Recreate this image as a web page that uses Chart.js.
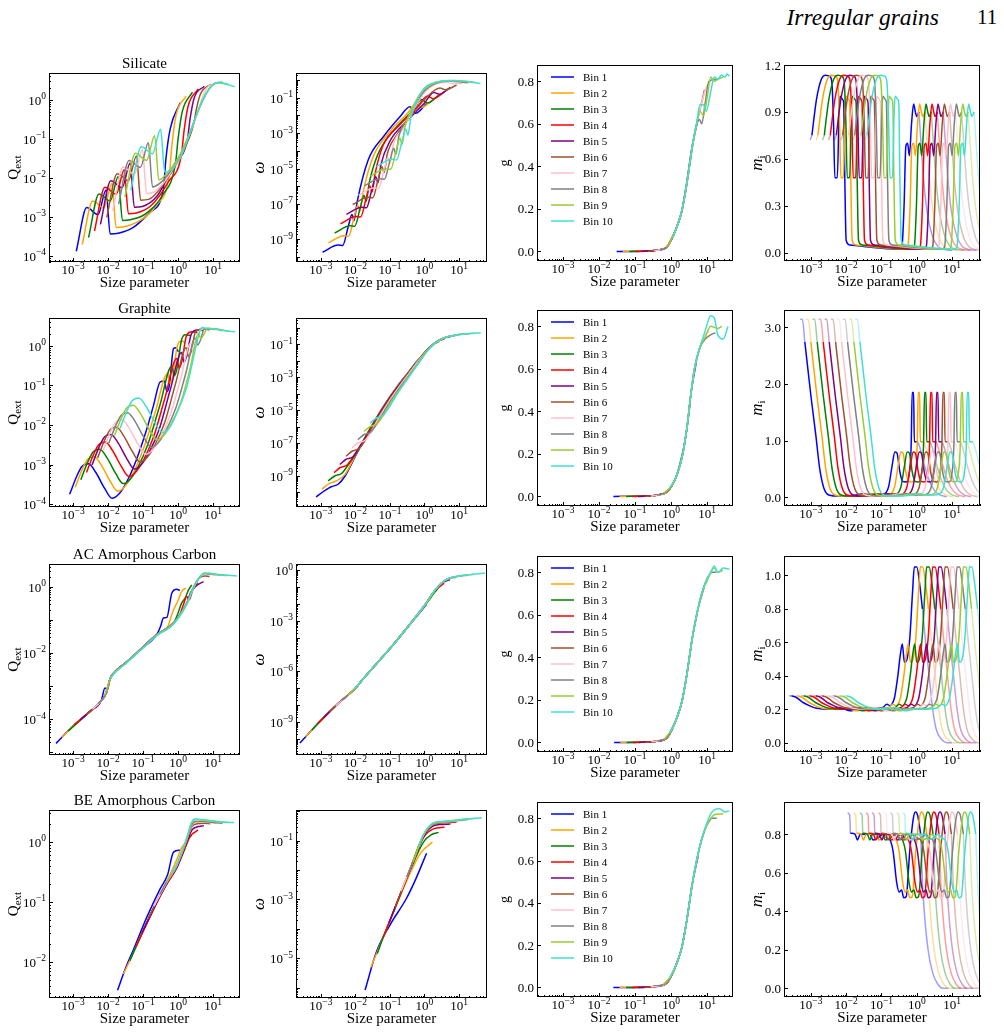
<!DOCTYPE html>
<html><head><meta charset="utf-8">
<script src="https://cdn.jsdelivr.net/npm/chart.js@4.4.0/dist/chart.umd.min.js"></script>
<style>
html,body{margin:0;padding:0;background:#fff;}
body{width:1004px;height:1036px;position:relative;overflow:hidden;font-family:"Liberation Serif","Times New Roman",serif;}
canvas{position:absolute;}
#hdr1{position:absolute;right:65px;top:5px;font-size:23.5px;line-height:24px;font-style:italic;white-space:nowrap;}
#hdr2{position:absolute;left:977px;top:7px;font-size:21px;line-height:21px;white-space:nowrap;}
</style></head><body>
<div id="hdr1">Irregular grains</div><div id="hdr2">11</div>
<script>
// ---------------- categories / labels ----------------
const bins = ['Bin 1','Bin 2','Bin 3','Bin 4','Bin 5','Bin 6','Bin 7','Bin 8','Bin 9','Bin 10'];
const materials = ['Silicate','Graphite','AC Amorphous Carbon','BE Amorphous Carbon'];
const xTickExps = [-3,-2,-1,0,1];
const qextTickExps = [[-4,-3,-2,-1,0],[-4,-3,-2,-1,0],[-4,-2,0],[-2,-1,0]];
const omegaTickExps = [[-9,-7,-5,-3,-1],[-9,-7,-5,-3,-1],[-9,-6,-3,0],[-5,-3,-1]];
const gTicks = [0,0.2,0.4,0.6,0.8];
const miTicks = [[0,0.3,0.6,0.9,1.2],[0,1,2,3],[0,0.2,0.4,0.6,0.8,1.0],[0,0.2,0.4,0.6,0.8]];
// per-bin shift (decades in size parameter) of the refractive-index curve
const miShift = [0,0.17,0.35,0.52,0.69,0.87,1.04,1.21,1.39,1.56];

// ---------------- data: [log10(size parameter), log10(value)] ----------------
const silicateQext = [
[[-2.91,-3.88],[-2.61,-2.76],[-2.29,-2.94],[-2.06,-2.31],[-1.94,-3.44],[-1.71,-3.42],[-1.28,-3.27],[-0.8,-2.88],[-0.42,-2.29],[-0.35,-1.53],[-0.23,-0.76],[0.06,-0.07]],
[[-2.74,-3.71],[-2.44,-2.59],[-2.12,-2.77],[-1.89,-2.14],[-1.77,-3.27],[-1.54,-3.25],[-1.11,-3.1],[-0.63,-2.71],[-0.25,-1.9],[-0.18,-1.2],[-0.06,-0.4],[0.23,0.1]],
[[-2.56,-3.53],[-2.26,-2.41],[-1.94,-2.59],[-1.71,-1.96],[-1.59,-3.09],[-1.36,-3.07],[-0.93,-2.92],[-0.45,-2.45],[-0.07,-1.6],[0.0,-1.0],[0.12,-0.3],[0.41,0.2]],
[[-2.39,-3.36],[-2.09,-2.24],[-1.77,-2.42],[-1.54,-1.79],[-1.42,-2.92],[-1.19,-2.9],[-0.76,-2.7],[-0.28,-2.1],[0.1,-1.38],[0.17,-0.8],[0.29,-0.15],[0.58,0.28]],
[[-2.22,-3.19],[-1.92,-2.07],[-1.6,-2.25],[-1.37,-1.62],[-1.25,-2.75],[-1.02,-2.73],[-0.59,-2.45],[-0.11,-1.65],[0.27,-1.0],[0.34,-0.5],[0.46,0.05],[0.75,0.35]],
[[-2.04,-3.01],[-1.74,-1.89],[-1.42,-2.07],[-1.19,-1.44],[-1.07,-2.57],[-0.84,-2.55],[-0.41,-2.15],[0.07,-1.45],[0.45,-0.6],[0.52,-0.25],[0.64,0.15],[0.93,0.4]],
[[-1.87,-2.84],[-1.57,-1.72],[-1.25,-1.9],[-1.02,-1.27],[-0.9,-2.4],[-0.67,-2.35],[-0.24,-1.9],[0.24,-1.05],[0.6,-0.22],[0.69,0.05],[0.81,0.3],[1.1,0.44]],
[[-1.7,-2.67],[-1.4,-1.55],[-1.08,-1.73],[-0.85,-1.1],[-0.73,-2.23],[-0.5,-2.12],[-0.2,-1.8],[0.2,-1.15],[0.6,-0.22],[0.9,0.3],[1.05,0.42],[1.27,0.45]],
[[-1.52,-2.49],[-1.22,-1.37],[-0.9,-1.55],[-0.67,-0.92],[-0.55,-2.05],[-0.32,-1.88],[0.0,-1.5],[0.4,-0.7],[0.7,0.0],[0.9,0.3],[1.1,0.44],[1.45,0.4]],
[[-1.35,-2.32],[-1.05,-1.2],[-0.73,-1.38],[-0.5,-0.75],[-0.38,-1.85],[-0.15,-1.75],[0.06,-1.5],[0.3,-0.95],[0.5,-0.45],[0.7,0.0],[0.9,0.3],[1.05,0.42],[1.2,0.45],[1.4,0.4],[1.62,0.34]]
];
const silicateOmega = [
[[-2.95,-9.73],[-2.5,-9.32],[-2.37,-9.35],[-2.21,-8.3],[-2.1,-7.6],[-2.04,-7.95],[-1.95,-6.9],[-1.63,-4.52],[-1.19,-3.2],[-0.71,-2.07],[-0.42,-1.51],[-0.26,-1.88],[0.06,-1.32]],
[[-2.78,-9.2],[-2.33,-8.79],[-2.2,-8.82],[-2.04,-7.77],[-1.93,-7.07],[-1.87,-7.42],[-1.78,-6.37],[-1.5,-4.4],[-1.0,-2.9],[-0.5,-1.9],[-0.25,-1.35],[-0.09,-1.55],[0.23,-1.13]],
[[-2.6,-8.64],[-2.15,-8.23],[-2.02,-8.26],[-1.86,-7.21],[-1.75,-6.51],[-1.69,-6.86],[-1.6,-5.81],[-1.35,-4.2],[-0.85,-2.75],[-0.35,-1.75],[-0.08,-1.1],[0.08,-1.3],[0.41,-0.85]],
[[-2.43,-8.12],[-1.98,-7.71],[-1.85,-7.74],[-1.69,-6.69],[-1.58,-5.99],[-1.52,-6.34],[-1.43,-5.29],[-1.2,-3.7],[-0.7,-2.5],[-0.2,-1.5],[0.09,-0.9],[0.25,-1.05],[0.58,-0.66]],
[[-2.26,-7.59],[-1.81,-7.18],[-1.68,-7.21],[-1.52,-6.16],[-1.41,-5.46],[-1.35,-5.81],[-1.26,-4.76],[-1.0,-3.45],[-0.5,-2.3],[0.0,-1.3],[0.27,-0.7],[0.43,-0.8],[0.75,-0.41]],
[[-2.08,-7.03],[-1.63,-6.62],[-1.5,-6.65],[-1.34,-5.6],[-1.23,-4.9],[-1.17,-5.25],[-1.08,-4.2],[-0.8,-3.1],[-0.4,-2.05],[0.05,-1.0],[0.45,-0.45],[0.6,-0.55],[0.93,-0.28]],
[[-1.91,-6.51],[-1.46,-6.1],[-1.33,-6.13],[-1.17,-5.08],[-1.06,-4.38],[-1.0,-4.73],[-0.91,-3.68],[-0.6,-2.7],[-0.3,-1.6],[0.0,-0.7],[0.3,-0.25],[0.62,-0.12],[0.8,-0.2],[1.1,-0.19]],
[[-1.74,-5.98],[-1.29,-5.57],[-1.16,-5.6],[-1.0,-4.55],[-0.89,-3.85],[-0.83,-4.2],[-0.74,-3.15],[-0.5,-2.2],[-0.25,-1.3],[0.0,-0.6],[0.3,-0.2],[0.7,-0.05],[1.0,-0.1],[1.27,-0.15]],
[[-1.56,-5.42],[-1.11,-5.01],[-0.98,-5.04],[-0.82,-3.99],[-0.71,-3.29],[-0.65,-3.64],[-0.56,-2.59],[-0.4,-1.8],[-0.2,-1.0],[0.0,-0.5],[0.3,-0.15],[0.7,-0.02],[1.1,-0.05],[1.45,-0.12]],
[[-1.39,-4.89],[-0.94,-4.48],[-0.81,-4.51],[-0.65,-3.46],[-0.54,-2.76],[-0.48,-3.11],[-0.39,-2.06],[-0.3,-1.5],[-0.15,-0.9],[0.0,-0.45],[0.2,-0.2],[0.5,-0.06],[0.9,-0.02],[1.2,-0.08],[1.62,-0.19]]
];
// [log10(x), g]
const silicateG = [
[[-1.51,0],[-1.0,0.0],[-0.4,0.005],[-0.12,0.02],[0.06,0.07]],
[[-1.34,0],[-0.7,0.002],[-0.4,0.006],[-0.12,0.02],[0.02,0.06],[0.16,0.115],[0.23,0.15]],
[[-1.16,0],[-0.7,0.002],[-0.4,0.006],[-0.12,0.02],[0.02,0.06],[0.16,0.115],[0.3,0.19],[0.41,0.29]],
[[-0.99,0],[-0.4,0.006],[-0.12,0.02],[0.02,0.06],[0.16,0.115],[0.3,0.19],[0.44,0.32],[0.58,0.48]],
[[-0.82,0],[-0.4,0.006],[-0.12,0.02],[0.02,0.06],[0.16,0.115],[0.3,0.19],[0.44,0.33],[0.58,0.49],[0.75,0.62]],
[[-0.64,0.001],[-0.4,0.006],[-0.12,0.02],[0.02,0.06],[0.16,0.115],[0.3,0.19],[0.44,0.32],[0.58,0.48],[0.71,0.6],[0.85,0.7],[0.93,0.76]],
[[-0.47,0.003],[-0.12,0.02],[0.02,0.06],[0.16,0.115],[0.3,0.19],[0.44,0.32],[0.58,0.48],[0.71,0.6],[0.85,0.7],[1.0,0.78],[1.1,0.8]],
[[-0.3,0.008],[-0.12,0.02],[0.02,0.06],[0.16,0.115],[0.3,0.19],[0.44,0.32],[0.58,0.48],[0.71,0.6],[0.8,0.62],[0.85,0.6],[0.95,0.7],[1.05,0.8],[1.27,0.81]],
[[-0.12,0.02],[0.02,0.06],[0.16,0.115],[0.3,0.19],[0.44,0.32],[0.58,0.48],[0.71,0.6],[0.8,0.66],[0.9,0.64],[1.0,0.72],[1.1,0.82],[1.2,0.8],[1.3,0.81],[1.45,0.82]],
[[0.05,0.065],[0.16,0.115],[0.3,0.19],[0.44,0.32],[0.58,0.48],[0.71,0.6],[0.8,0.69],[0.9,0.69],[0.98,0.66],[1.1,0.75],[1.2,0.82],[1.3,0.81],[1.4,0.83],[1.5,0.82],[1.55,0.835],[1.62,0.825]]
];
// refractive index (imaginary part) read for Bin 1: [log10(x), m_i]; faded in / solid / faded out
const silicateMiIn = [[-3.02,0.72],[-2.97,0.75]];
const silicateMi = [[-2.97,0.75],[-2.84,0.98],[-2.7,1.11],[-2.58,1.135],[-2.48,1.13],[-2.41,1.1],[-2.36,0.85],[-2.32,0.48],[-2.25,0.48],[-2.2,0.9],[-2.17,1.0],[-2.1,0.98],[-2.07,0.96],[-2.04,0.5],[-2.0,0.08],[-1.9,0.05],[-1.5,0.04],[-1.0,0.028],[-0.5,0.022],[-0.42,0.04],[-0.36,0.3],[-0.31,0.68],[-0.26,0.7],[-0.21,0.62],[-0.15,0.82],[-0.09,0.95],[-0.04,0.9],[0.0,0.87],[0.06,0.9]];
const silicateMiOut = [[0.06,0.9],[0.12,0.7],[0.2,0.45],[0.3,0.25],[0.45,0.1],[0.6,0.04],[0.8,0.02],[1.0,0.015]];

const graphiteQext = [
[[-3.1,-3.75],[-2.9,-3.3],[-2.75,-3.05],[-2.56,-2.98],[-2.35,-3.2],[-2.1,-3.6],[-1.89,-3.85],[-1.7,-3.75],[-1.47,-3.44],[-1.18,-2.85],[-0.89,-2.09],[-0.7,-1.5],[-0.51,-0.91],[-0.39,-0.89],[-0.32,-1.16],[-0.25,-1.0],[-0.13,-0.07],[-0.07,-0.05],[0.01,-0.15]],
[[-2.94,-3.57],[-2.74,-3.12],[-2.59,-2.87],[-2.4,-2.8],[-2.19,-3.02],[-1.94,-3.42],[-1.73,-3.67],[-1.54,-3.57],[-1.31,-3.26],[-1.02,-2.67],[-0.66,-1.7],[-0.3,-0.7],[-0.23,-0.95],[-0.16,-0.8],[-0.02,0.0],[0.1,0.12],[0.19,0.08]],
[[-2.78,-3.38],[-2.58,-2.93],[-2.43,-2.68],[-2.24,-2.61],[-2.03,-2.83],[-1.78,-3.23],[-1.57,-3.48],[-1.38,-3.38],[-1.15,-3.07],[-0.86,-2.48],[-0.52,-1.5],[-0.18,-0.51],[-0.11,-0.76],[-0.04,-0.61],[0.1,0.15],[0.2,0.28],[0.37,0.25]],
[[-2.62,-3.2],[-2.42,-2.75],[-2.27,-2.5],[-2.08,-2.43],[-1.87,-2.65],[-1.62,-3.05],[-1.41,-3.3],[-1.22,-3.2],[-0.99,-2.89],[-0.7,-2.3],[-0.37,-1.3],[-0.04,-0.32],[0.03,-0.57],[0.1,-0.42],[0.24,0.25],[0.39,0.35],[0.55,0.33]],
[[-2.46,-3.01],[-2.26,-2.56],[-2.11,-2.31],[-1.92,-2.24],[-1.71,-2.46],[-1.46,-2.86],[-1.25,-3.11],[-1.06,-3.01],[-0.83,-2.7],[-0.54,-2.11],[-0.22,-1.1],[0.1,-0.17],[0.17,-0.42],[0.24,-0.27],[0.38,0.3],[0.55,0.4],[0.73,0.38]],
[[-2.3,-2.83],[-2.1,-2.38],[-1.95,-2.13],[-1.76,-2.06],[-1.55,-2.28],[-1.3,-2.68],[-1.09,-2.93],[-0.9,-2.83],[-0.67,-2.52],[-0.38,-1.93],[-0.07,-0.95],[0.23,-0.05],[0.3,-0.28],[0.37,-0.15],[0.5,0.35],[0.7,0.42],[0.9,0.4]],
[[-2.14,-2.64],[-1.94,-2.19],[-1.79,-1.94],[-1.6,-1.87],[-1.39,-2.09],[-1.14,-2.49],[-0.93,-2.74],[-0.74,-2.64],[-0.51,-2.33],[-0.22,-1.74],[0.07,-0.85],[0.36,0.06],[0.43,-0.15],[0.5,-0.02],[0.62,0.38],[0.85,0.44],[1.08,0.4]],
[[-1.98,-2.46],[-1.78,-2.01],[-1.63,-1.76],[-1.44,-1.69],[-1.23,-1.91],[-0.98,-2.31],[-0.77,-2.56],[-0.58,-2.46],[-0.35,-2.15],[-0.06,-1.56],[0.22,-0.7],[0.49,0.19],[0.56,0.02],[0.63,0.12],[0.75,0.42],[1.0,0.43],[1.26,0.38]],
[[-1.82,-2.27],[-1.62,-1.82],[-1.47,-1.57],[-1.28,-1.5],[-1.07,-1.72],[-0.82,-2.12],[-0.61,-2.37],[-0.42,-2.27],[-0.19,-1.96],[0.1,-1.37],[0.35,-0.55],[0.58,0.31],[0.65,0.18],[0.72,0.26],[0.85,0.44],[1.1,0.42],[1.45,0.37]],
[[-1.66,-2.09],[-1.46,-1.64],[-1.31,-1.39],[-1.12,-1.32],[-0.91,-1.54],[-0.66,-1.94],[-0.45,-2.19],[-0.26,-2.09],[0.06,-1.5],[0.26,-1.0],[0.44,-0.3],[0.6,0.3],[0.68,0.46],[0.8,0.44],[1.0,0.42],[1.2,0.4],[1.4,0.37],[1.63,0.35]]
];
const graphiteOmega = [
[[-3.14,-10.27],[-2.9,-9.9],[-2.7,-9.65],[-2.5,-9.5],[-2.3,-9.0],[-2.0,-7.8],[-1.7,-6.6],[-1.4,-5.5],[-1.1,-4.5],[-0.8,-3.6],[-0.5,-2.8],[-0.2,-2.0],[0.06,-1.45]],
[[-2.97,-9.8],[-2.75,-9.45],[-2.55,-9.3],[-2.3,-8.9],[-2.0,-7.75],[-1.7,-6.6],[-1.4,-5.5],[-1.1,-4.52],[-0.8,-3.62],[-0.5,-2.82],[-0.2,-2.02],[0.0,-1.5],[0.23,-1.12]],
[[-2.79,-9.3],[-2.6,-9.0],[-2.4,-8.85],[-2.2,-8.3],[-2.0,-7.7],[-1.7,-6.6],[-1.4,-5.52],[-1.1,-4.55],[-0.8,-3.65],[-0.5,-2.85],[-0.2,-2.05],[0.0,-1.52],[0.2,-1.1],[0.41,-0.85]],
[[-2.62,-8.8],[-2.45,-8.5],[-2.25,-8.35],[-2.05,-7.8],[-1.7,-6.65],[-1.4,-5.55],[-1.1,-4.58],[-0.8,-3.68],[-0.5,-2.88],[-0.2,-2.08],[0.0,-1.55],[0.2,-1.12],[0.4,-0.82],[0.58,-0.68]],
[[-2.45,-8.3],[-2.28,-8.0],[-2.08,-7.85],[-1.9,-7.3],[-1.7,-6.7],[-1.4,-5.6],[-1.1,-4.6],[-0.8,-3.7],[-0.5,-2.9],[-0.2,-2.1],[0.0,-1.55],[0.2,-1.1],[0.4,-0.8],[0.6,-0.62],[0.75,-0.56]],
[[-2.27,-7.8],[-2.1,-7.5],[-1.9,-7.35],[-1.72,-6.85],[-1.4,-5.65],[-1.1,-4.65],[-0.8,-3.75],[-0.5,-2.92],[-0.2,-2.1],[0.0,-1.55],[0.2,-1.1],[0.4,-0.8],[0.6,-0.6],[0.8,-0.5],[0.93,-0.47]],
[[-2.1,-7.3],[-1.93,-7.0],[-1.73,-6.85],[-1.55,-6.35],[-1.3,-5.4],[-1.0,-4.4],[-0.7,-3.5],[-0.4,-2.65],[-0.15,-1.95],[0.05,-1.45],[0.2,-1.1],[0.4,-0.8],[0.6,-0.6],[0.8,-0.5],[1.1,-0.4]],
[[-1.93,-6.8],[-1.76,-6.5],[-1.56,-6.35],[-1.38,-5.85],[-1.1,-4.85],[-0.8,-3.9],[-0.5,-3.05],[-0.2,-2.2],[0.0,-1.6],[0.2,-1.12],[0.4,-0.8],[0.6,-0.6],[0.8,-0.5],[1.0,-0.42],[1.27,-0.37]],
[[-1.75,-6.3],[-1.58,-6.0],[-1.38,-5.85],[-1.2,-5.35],[-0.9,-4.3],[-0.6,-3.4],[-0.3,-2.5],[0.0,-1.65],[0.2,-1.15],[0.4,-0.8],[0.6,-0.6],[0.8,-0.5],[1.0,-0.42],[1.2,-0.38],[1.45,-0.34]],
[[-1.58,-5.8],[-1.41,-5.5],[-1.21,-5.35],[-1.03,-4.85],[-0.75,-3.9],[-0.45,-3.0],[-0.15,-2.1],[0.05,-1.5],[0.25,-1.05],[0.45,-0.75],[0.65,-0.57],[0.85,-0.48],[1.05,-0.41],[1.3,-0.36],[1.63,-0.32]]
];
const graphiteG = [
[[-1.6,0],[-0.7,0.002],[-0.4,0.006],[-0.12,0.02],[0.02,0.05]],
[[-1.43,0],[-0.7,0.002],[-0.4,0.006],[-0.12,0.02],[0.02,0.05],[0.19,0.11]],
[[-1.25,0],[-0.7,0.002],[-0.4,0.006],[-0.12,0.02],[0.02,0.05],[0.16,0.1],[0.37,0.24]],
[[-1.08,0],[-0.4,0.006],[-0.12,0.02],[0.02,0.05],[0.16,0.1],[0.3,0.18],[0.44,0.32],[0.54,0.45]],
[[-0.91,0],[-0.4,0.006],[-0.12,0.02],[0.02,0.05],[0.16,0.1],[0.3,0.18],[0.44,0.32],[0.55,0.48],[0.71,0.64]],
[[-0.73,0],[-0.4,0.006],[-0.12,0.02],[0.02,0.05],[0.16,0.1],[0.3,0.18],[0.44,0.32],[0.55,0.48],[0.65,0.6],[0.8,0.7],[0.89,0.74]],
[[-0.56,0.001],[-0.12,0.02],[0.02,0.05],[0.16,0.1],[0.3,0.18],[0.44,0.32],[0.55,0.48],[0.65,0.6],[0.8,0.7],[0.95,0.76],[1.06,0.78]],
[[-0.39,0.006],[-0.12,0.02],[0.02,0.05],[0.16,0.1],[0.3,0.18],[0.44,0.32],[0.55,0.48],[0.65,0.6],[0.8,0.7],[0.95,0.74],[1.1,0.76],[1.23,0.77]],
[[-0.21,0.015],[0.02,0.05],[0.16,0.1],[0.3,0.18],[0.44,0.32],[0.55,0.48],[0.65,0.6],[0.8,0.7],[0.95,0.75],[1.1,0.8],[1.3,0.79],[1.41,0.8]],
[[-0.04,0.04],[0.16,0.1],[0.3,0.18],[0.44,0.32],[0.55,0.48],[0.65,0.6],[0.8,0.7],[0.95,0.78],[1.1,0.85],[1.2,0.84],[1.3,0.76],[1.45,0.74],[1.58,0.8]]
];
const graphiteMiIn = [[-3.3,3.14],[-3.24,3.14],[-3.17,2.74]];
const graphiteMi = [[-3.17,2.74],[-3.0,1.8],[-2.86,1.1],[-2.75,0.51],[-2.63,0.16],[-2.49,0.04],[-2.2,0.02],[-1.8,0.03],[-1.5,0.06],[-1.25,0.04],[-0.95,0.05],[-0.8,0.18],[-0.7,0.55],[-0.62,0.8],[-0.56,0.78],[-0.48,0.45],[-0.4,0.28],[-0.3,0.27],[-0.22,0.4],[-0.16,0.9],[-0.13,1.85],[-0.09,1.85],[-0.07,0.98],[0.03,0.98]];
const graphiteMiOut = [[0.03,0.98],[0.1,0.85],[0.2,0.6],[0.35,0.3],[0.5,0.12],[0.65,0.04],[0.85,0.01]];

const acQext = [
[[-3.49,-4.73],[-3.0,-4.2],[-2.5,-3.75],[-2.2,-3.45],[-2.09,-3.06],[-2.02,-3.1],[-1.95,-2.8],[-1.85,-2.62],[-1.5,-2.3],[-1.09,-1.91],[-0.61,-1.45],[-0.5,-1.2],[-0.42,-0.95],[-0.32,-0.93],[-0.18,-0.2],[-0.04,-0.08],[0.05,-0.12]],
[[-3.32,-4.55],[-3.0,-4.2],[-2.5,-3.75],[-2.2,-3.45],[-2.05,-3.2],[-1.95,-2.8],[-1.85,-2.62],[-1.5,-2.3],[-1.09,-1.91],[-0.61,-1.45],[-0.3,-1.22],[-0.15,-0.75],[0.0,-0.42],[0.1,-0.15],[0.22,-0.05]],
[[-3.14,-4.36],[-2.5,-3.75],[-2.2,-3.45],[-2.05,-3.2],[-1.95,-2.8],[-1.85,-2.62],[-1.5,-2.3],[-1.09,-1.91],[-0.61,-1.45],[-0.13,-1.1],[0.0,-0.8],[0.1,-0.5],[0.2,-0.35],[0.3,-0.1],[0.39,0.05]],
[[-2.97,-4.17],[-2.5,-3.75],[-2.2,-3.45],[-2.05,-3.2],[-1.95,-2.8],[-1.85,-2.62],[-1.5,-2.3],[-1.09,-1.91],[-0.61,-1.45],[-0.13,-1.1],[0.05,-0.85],[0.15,-0.55],[0.25,-0.3],[0.32,-0.4],[0.42,-0.1],[0.56,0.12]],
[[-2.8,-4.02],[-2.5,-3.75],[-2.2,-3.45],[-2.05,-3.2],[-1.95,-2.8],[-1.85,-2.62],[-1.5,-2.3],[-1.09,-1.91],[-0.61,-1.45],[-0.13,-1.1],[0.25,-0.5],[0.35,-0.2],[0.45,-0.05],[0.55,0.05],[0.73,0.15]],
[[-2.62,-3.86],[-2.2,-3.45],[-2.05,-3.2],[-1.95,-2.8],[-1.85,-2.62],[-1.5,-2.3],[-1.09,-1.91],[-0.61,-1.45],[-0.13,-1.1],[0.25,-0.5],[0.45,0.0],[0.6,0.25],[0.75,0.32],[0.9,0.3]],
[[-2.45,-3.7],[-2.2,-3.45],[-2.05,-3.2],[-1.95,-2.8],[-1.85,-2.62],[-1.5,-2.3],[-1.09,-1.91],[-0.61,-1.45],[-0.13,-1.1],[0.25,-0.5],[0.45,0.0],[0.63,0.3],[0.75,0.38],[0.9,0.37],[1.07,0.34]],
[[-2.28,-3.53],[-2.05,-3.2],[-1.95,-2.8],[-1.85,-2.62],[-1.5,-2.3],[-1.09,-1.91],[-0.61,-1.45],[-0.13,-1.1],[0.25,-0.5],[0.45,0.0],[0.63,0.3],[0.75,0.39],[0.9,0.38],[1.24,0.34]],
[[-2.1,-3.28],[-1.95,-2.82],[-1.85,-2.64],[-1.5,-2.32],[-1.09,-1.93],[-0.61,-1.47],[-0.13,-1.12],[0.25,-0.52],[0.45,-0.02],[0.63,0.3],[0.75,0.4],[0.9,0.39],[1.2,0.35],[1.42,0.33]],
[[-1.93,-2.78],[-1.85,-2.65],[-1.5,-2.33],[-1.09,-1.94],[-0.61,-1.48],[-0.13,-1.13],[0.25,-0.53],[0.45,-0.03],[0.63,0.3],[0.75,0.41],[0.9,0.4],[1.2,0.36],[1.68,0.32]]
];
const acOmega = [
[[-3.61,-10.24],[-3.0,-8.9],[-2.5,-7.9],[-2.0,-7.0],[-1.8,-6.5],[-1.5,-5.8],[-1.0,-4.65],[-0.5,-3.42],[0.05,-2.05]],
[[-3.44,-9.87],[-3.0,-8.9],[-2.5,-7.9],[-2.0,-7.0],[-1.8,-6.5],[-1.5,-5.8],[-1.0,-4.65],[-0.5,-3.42],[0.0,-2.15],[0.22,-1.55]],
[[-3.26,-9.47],[-3.0,-8.9],[-2.5,-7.9],[-2.0,-7.0],[-1.8,-6.5],[-1.5,-5.8],[-1.0,-4.65],[-0.5,-3.4],[0.0,-2.12],[0.3,-1.3],[0.4,-1.08]],
[[-3.09,-9.1],[-2.5,-7.9],[-2.0,-7.0],[-1.8,-6.5],[-1.5,-5.8],[-1.0,-4.65],[-0.5,-3.4],[0.0,-2.1],[0.3,-1.22],[0.57,-0.78]],
[[-2.92,-8.74],[-2.5,-7.9],[-2.0,-7.0],[-1.8,-6.5],[-1.5,-5.8],[-1.0,-4.65],[-0.5,-3.4],[0.0,-2.1],[0.3,-1.2],[0.5,-0.78],[0.74,-0.56]],
[[-2.74,-8.38],[-2.5,-7.9],[-2.0,-7.0],[-1.8,-6.5],[-1.5,-5.8],[-1.0,-4.65],[-0.5,-3.4],[0.0,-2.1],[0.3,-1.2],[0.5,-0.76],[0.7,-0.52],[0.92,-0.42]],
[[-2.57,-8.04],[-2.0,-7.0],[-1.8,-6.5],[-1.5,-5.8],[-1.0,-4.65],[-0.5,-3.4],[0.0,-2.1],[0.3,-1.2],[0.5,-0.75],[0.7,-0.5],[1.09,-0.34]],
[[-2.4,-7.72],[-2.0,-7.0],[-1.8,-6.5],[-1.5,-5.8],[-1.0,-4.65],[-0.5,-3.4],[0.0,-2.1],[0.3,-1.2],[0.5,-0.75],[0.7,-0.5],[1.0,-0.35],[1.26,-0.3]],
[[-2.22,-7.4],[-2.0,-7.0],[-1.8,-6.5],[-1.5,-5.8],[-1.0,-4.65],[-0.5,-3.4],[0.0,-2.1],[0.3,-1.2],[0.5,-0.75],[0.7,-0.5],[1.0,-0.35],[1.44,-0.25]],
[[-2.05,-7.09],[-1.8,-6.5],[-1.5,-5.8],[-1.0,-4.65],[-0.5,-3.4],[0.0,-2.1],[0.3,-1.2],[0.5,-0.75],[0.7,-0.5],[1.0,-0.35],[1.4,-0.25],[1.75,-0.18]]
];
const acG = [
[[-1.58,0],[-1.0,0.0],[-0.4,0.005],[-0.12,0.02],[0.05,0.065]],
[[-1.41,0],[-0.7,0.002],[-0.4,0.006],[-0.12,0.02],[0.02,0.06],[0.16,0.115],[0.22,0.15]],
[[-1.23,0],[-0.7,0.002],[-0.4,0.006],[-0.12,0.02],[0.02,0.06],[0.16,0.115],[0.3,0.19],[0.4,0.28]],
[[-1.06,0],[-0.4,0.006],[-0.12,0.02],[0.02,0.06],[0.16,0.115],[0.3,0.19],[0.44,0.32],[0.57,0.47]],
[[-0.89,0],[-0.4,0.006],[-0.12,0.02],[0.02,0.06],[0.16,0.115],[0.3,0.19],[0.44,0.32],[0.58,0.48],[0.74,0.62]],
[[-0.71,0.001],[-0.4,0.006],[-0.12,0.02],[0.02,0.06],[0.16,0.115],[0.3,0.19],[0.44,0.32],[0.58,0.48],[0.71,0.6],[0.85,0.69],[0.92,0.73]],
[[-0.54,0.003],[-0.12,0.02],[0.02,0.06],[0.16,0.115],[0.3,0.19],[0.44,0.32],[0.58,0.48],[0.71,0.6],[0.85,0.7],[1.0,0.77],[1.09,0.79]],
[[-0.37,0.007],[-0.12,0.02],[0.02,0.06],[0.16,0.115],[0.3,0.19],[0.44,0.32],[0.58,0.48],[0.71,0.6],[0.85,0.7],[1.0,0.77],[1.15,0.8],[1.26,0.8]],
[[-0.19,0.015],[0.02,0.06],[0.16,0.115],[0.3,0.19],[0.44,0.32],[0.58,0.48],[0.71,0.6],[0.85,0.7],[1.0,0.76],[1.1,0.8],[1.2,0.82],[1.3,0.8],[1.44,0.81]],
[[-0.02,0.045],[0.16,0.115],[0.3,0.19],[0.44,0.32],[0.58,0.48],[0.71,0.6],[0.85,0.7],[1.0,0.77],[1.1,0.8],[1.2,0.83],[1.3,0.8],[1.45,0.82],[1.62,0.815]]
];
const acMiIn = [[-3.62,0.28],[-3.55,0.28]];
const acMi = [[-3.55,0.28],[-3.41,0.27],[-3.22,0.24],[-3.03,0.22],[-2.84,0.205],[-2.46,0.2],[-2.2,0.21],[-1.9,0.19],[-1.6,0.2],[-1.3,0.2],[-0.96,0.21],[-0.85,0.23],[-0.75,0.22],[-0.68,0.24],[-0.63,0.27],[-0.53,0.41],[-0.47,0.52],[-0.41,0.59],[-0.35,0.48],[-0.29,0.49],[-0.2,0.62],[-0.12,0.9],[-0.07,1.05],[0.0,1.05],[0.08,0.95],[0.16,0.8]];
const acMiOut = [[0.16,0.8],[0.25,0.6],[0.35,0.4],[0.45,0.2],[0.55,0.08],[0.7,0.02],[0.85,0.0],[1.0,0.0]];

const beQext = [
[[-1.73,-2.47],[-1.5,-2.1],[-1.28,-1.8],[-0.89,-1.25],[-0.51,-0.78],[-0.3,-0.55],[-0.13,-0.17],[0.06,-0.14]],
[[-1.56,-2.2],[-1.28,-1.85],[-0.89,-1.33],[-0.51,-0.87],[-0.32,-0.66],[-0.04,-0.3],[0.1,-0.1],[0.23,0.0]],
[[-1.38,-1.98],[-0.89,-1.34],[-0.51,-0.88],[-0.32,-0.68],[-0.04,-0.42],[0.2,-0.1],[0.3,0.05],[0.4,0.12]],
[[-1.21,-1.75],[-0.89,-1.36],[-0.51,-0.9],[-0.32,-0.7],[-0.04,-0.44],[0.2,-0.1],[0.35,0.1],[0.45,0.15],[0.57,0.2]],
[[-1.04,-1.52],[-0.51,-0.9],[-0.32,-0.7],[-0.04,-0.42],[0.25,0.0],[0.4,0.2],[0.55,0.25],[0.74,0.27]],
[[-0.86,-1.28],[-0.51,-0.88],[-0.32,-0.68],[-0.04,-0.4],[0.25,0.03],[0.39,0.25],[0.55,0.3],[0.75,0.31],[0.92,0.3]],
[[-0.69,-1.07],[-0.32,-0.67],[-0.04,-0.4],[0.25,0.04],[0.39,0.27],[0.5,0.33],[0.7,0.33],[1.09,0.31]],
[[-0.52,-0.87],[-0.32,-0.66],[-0.04,-0.39],[0.25,0.05],[0.39,0.28],[0.5,0.34],[0.7,0.34],[1.0,0.32],[1.27,0.31]],
[[-0.34,-0.67],[-0.04,-0.38],[0.25,0.06],[0.39,0.32],[0.5,0.37],[0.7,0.36],[1.0,0.34],[1.44,0.32]],
[[-0.17,-0.52],[-0.04,-0.38],[0.25,0.07],[0.39,0.33],[0.5,0.38],[0.7,0.37],[1.0,0.35],[1.3,0.33],[1.6,0.32]]
];
const beOmega = [
[[-1.72,-6.08],[-1.39,-4.78],[-1.0,-3.87],[-0.52,-2.96],[-0.25,-2.3],[0.06,-1.43]],
[[-1.55,-5.3],[-1.2,-4.3],[-0.9,-3.45],[-0.41,-2.1],[-0.1,-1.4],[0.23,-1.05]],
[[-1.37,-4.85],[-1.2,-4.3],[-0.9,-3.43],[-0.41,-2.0],[-0.03,-1.05],[0.2,-0.8],[0.41,-0.72]],
[[-1.2,-4.3],[-0.9,-3.42],[-0.41,-1.97],[-0.03,-0.9],[0.26,-0.6],[0.58,-0.55]],
[[-1.03,-3.8],[-0.41,-1.95],[-0.03,-0.85],[0.26,-0.5],[0.5,-0.45],[0.75,-0.44]],
[[-0.85,-3.27],[-0.41,-1.94],[-0.03,-0.82],[0.26,-0.45],[0.5,-0.4],[0.93,-0.38]],
[[-0.68,-2.72],[-0.41,-1.94],[-0.03,-0.81],[0.26,-0.42],[0.5,-0.37],[0.8,-0.34],[1.1,-0.32]],
[[-0.51,-2.24],[-0.41,-1.94],[-0.03,-0.81],[0.26,-0.41],[0.5,-0.36],[0.8,-0.33],[1.27,-0.28]],
[[-0.33,-1.72],[-0.03,-0.81],[0.26,-0.41],[0.5,-0.36],[0.8,-0.32],[1.1,-0.28],[1.45,-0.25]],
[[-0.16,-1.2],[-0.03,-0.8],[0.26,-0.4],[0.5,-0.35],[0.74,-0.33],[1.2,-0.27],[1.66,-0.22]]
];
const beG = [
[[-1.6,0],[-1.0,0.0],[-0.4,0.005],[-0.12,0.02],[0.06,0.07]],
[[-1.43,0],[-0.7,0.002],[-0.4,0.006],[-0.12,0.02],[0.02,0.06],[0.16,0.115],[0.23,0.15]],
[[-1.25,0],[-0.7,0.002],[-0.4,0.006],[-0.12,0.02],[0.02,0.06],[0.16,0.115],[0.3,0.19],[0.41,0.29]],
[[-1.08,0],[-0.4,0.006],[-0.12,0.02],[0.02,0.06],[0.16,0.115],[0.3,0.19],[0.44,0.32],[0.58,0.48]],
[[-0.91,0],[-0.4,0.006],[-0.12,0.02],[0.02,0.06],[0.16,0.115],[0.3,0.19],[0.44,0.32],[0.58,0.48],[0.75,0.62]],
[[-0.73,0.001],[-0.4,0.006],[-0.12,0.02],[0.02,0.06],[0.16,0.115],[0.3,0.19],[0.44,0.32],[0.58,0.48],[0.71,0.6],[0.85,0.7],[0.93,0.74]],
[[-0.56,0.003],[-0.12,0.02],[0.02,0.06],[0.16,0.115],[0.3,0.19],[0.44,0.32],[0.58,0.48],[0.71,0.6],[0.85,0.7],[1.0,0.77],[1.1,0.79]],
[[-0.39,0.007],[-0.12,0.02],[0.02,0.06],[0.16,0.115],[0.3,0.19],[0.44,0.32],[0.58,0.48],[0.71,0.6],[0.85,0.7],[1.0,0.77],[1.15,0.8],[1.27,0.8]],
[[-0.21,0.015],[0.02,0.06],[0.16,0.115],[0.3,0.19],[0.44,0.32],[0.58,0.48],[0.71,0.6],[0.85,0.7],[1.0,0.77],[1.15,0.81],[1.3,0.82],[1.45,0.82]],
[[-0.04,0.045],[0.16,0.115],[0.3,0.19],[0.44,0.32],[0.58,0.48],[0.71,0.6],[0.85,0.7],[1.0,0.78],[1.1,0.82],[1.2,0.84],[1.35,0.845],[1.5,0.83],[1.62,0.835]]
];
const beMiIn = [[-1.96,0.91],[-1.9,0.9],[-1.88,0.805]];
const beMi = [[-1.88,0.805],[-1.75,0.8],[-1.68,0.77],[-1.6,0.8],[-1.33,0.8],[-1.24,0.77],[-1.1,0.78],[-0.96,0.8],[-0.85,0.78],[-0.76,0.77],[-0.67,0.71],[-0.57,0.55],[-0.5,0.5],[-0.43,0.51],[-0.37,0.47],[-0.3,0.475],[-0.2,0.71],[-0.1,0.88],[-0.04,0.915],[0.02,0.9],[0.07,0.85],[0.11,0.8]];
const beMiOut = [[0.11,0.8],[0.16,0.55],[0.22,0.38],[0.32,0.2],[0.45,0.08],[0.6,0.02],[0.75,0.0],[0.9,0.0]];

// ---------------- layout & style ----------------
const binColors = ['#0000ff','#ffa500','#008000','#ff0000','#800080','#a0522d','#ffc0cb','#808080','#9acd32','#40e0d0'];
const colL = [49,296,537,784], colR = [240,487,733,980];
const rowTop = [[73,318,564,810],[73,318,564,810],[65,310,556,802],[65,310,556,802]];
const rowBot = [[262,507,755,998],[262,507,755,998],[261,506,752,997],[261,506,752,997]];
const colXRange = [[-3.69,1.77],[-3.72,1.81],[-3.72,1.72],[-3.76,1.79]];
const yTitleOffset = [36,36,30,27];
const qextRange = [[-4.13,0.69],[-4.07,0.70],[-5.08,0.68],[-2.6,0.53]];
const omegaRange = [[-10.28,0.4],[-10.88,0.58],[-10.95,0.36],[-6.35,0.04]];
const gRange = [-0.045,0.877];
const miRange = [[-0.053,1.2],[-0.155,3.305],[-0.056,1.116],[-0.045,0.967]];
const SERIF = '"Liberation Serif","Times New Roman",serif';

function fade(hex, a){ const n=parseInt(hex.slice(1),16); return 'rgba('+((n>>16)&255)+','+((n>>8)&255)+','+(n&255)+','+a+')'; }
function logPts(arr){ return arr.map(p=>({x:Math.pow(10,p[0]), y:Math.pow(10,p[1])})); }
function linPts(arr){ return arr.map(p=>({x:Math.pow(10,p[0]), y:p[1]})); }
function shiftPts(arr, s){ return arr.map(p=>({x:Math.pow(10,p[0]+s), y:p[1]})); }

function lineDs(k, data, color, order){
  return {label:bins[k], data, borderColor:color, backgroundColor:color, borderWidth:1.5, pointRadius:0, pointHoverRadius:0,
          fill:false, cubicInterpolationMode:'monotone', order};
}

function drawPow(ctx, n, x, base, align){
  const e = n<0 ? '\u2212'+Math.abs(n) : String(n);
  ctx.font = '13px '+SERIF; const w1 = ctx.measureText('10').width;
  ctx.font = '9.5px '+SERIF; const w2 = ctx.measureText(e).width;
  const x0 = align==='center' ? x-(w1+w2)/2 : x-(w1+w2);
  ctx.textAlign='left';
  ctx.font = '13px '+SERIF; ctx.fillText('10', x0, base);
  ctx.font = '9.5px '+SERIF; ctx.fillText(e, x0+w1, base-5.5);
}

function drawYTitle(ctx, kind, cx, cy){
  ctx.save(); ctx.translate(cx, cy); ctx.rotate(-Math.PI/2); ctx.textAlign='left';
  if(kind==='qext'){
    ctx.font='15px '+SERIF; const w1=ctx.measureText('Q').width;
    ctx.font='11px '+SERIF; const w2=ctx.measureText('ext').width;
    const x0=-(w1+w2)/2;
    ctx.font='15px '+SERIF; ctx.fillText('Q',x0,5);
    ctx.font='11px '+SERIF; ctx.fillText('ext',x0+w1,8);
  } else if(kind==='omega'){
    ctx.font='italic 17px '+SERIF; ctx.textAlign='center'; ctx.fillText('\u03c9',0,4);
  } else if(kind==='g'){
    ctx.font='14px '+SERIF; ctx.textAlign='center'; ctx.fillText('g',0,2);
  } else {
    ctx.font='italic 17px '+SERIF; const w1=ctx.measureText('m').width;
    ctx.font='11px '+SERIF; const w2=ctx.measureText('i').width;
    const x0=-(w1+w2)/2;
    ctx.font='italic 17px '+SERIF; ctx.fillText('m',x0,5);
    ctx.font='11px '+SERIF; ctx.fillText('i',x0+w1,8);
  }
  ctx.restore();
}

function drawDeco(chart, cfg){
  const ctx=chart.ctx, a=chart.chartArea, xs=chart.scales.x, ys=chart.scales.y;
  ctx.save();
  ctx.strokeStyle='#000'; ctx.fillStyle='#000'; ctx.lineWidth=1;
  ctx.beginPath();
  for(let n=-5;n<=2;n++) for(let m=1;m<=9;m++){
    const v=m*Math.pow(10,n); if(v<xs.min||v>xs.max) continue;
    const px=Math.round(xs.getPixelForValue(v))+0.5, len=m===1?4:2;
    ctx.moveTo(px,a.bottom); ctx.lineTo(px,a.bottom-len);
  }
  if(cfg.ylog){
    for(let n=-12;n<=2;n++) for(let m=1;m<=9;m++){
      const v=m*Math.pow(10,n); if(v<ys.min||v>ys.max) continue;
      const py=Math.round(ys.getPixelForValue(v))+0.5, len=m===1?4:2;
      ctx.moveTo(a.left,py); ctx.lineTo(a.left+len,py);
    }
  } else {
    for(const v of cfg.yticks){ const py=Math.round(ys.getPixelForValue(v))+0.5; ctx.moveTo(a.left,py); ctx.lineTo(a.left+4,py); }
  }
  ctx.stroke();
  ctx.strokeRect(Math.round(a.left)+0.5, Math.round(a.top)+0.5, Math.round(a.right-a.left)-1, Math.round(a.bottom-a.top)-1);
  // tick labels
  for(const n of xTickExps){ drawPow(ctx, n, xs.getPixelForValue(Math.pow(10,n)), a.bottom+12, 'center'); }
  if(cfg.ylog){
    for(const n of cfg.yexps){ drawPow(ctx, n, a.left-3, ys.getPixelForValue(Math.pow(10,n))+5, 'right'); }
  } else {
    ctx.font='13px '+SERIF; ctx.textAlign='right';
    for(const v of cfg.yticks){ ctx.fillText(v.toFixed(1), a.left-3, ys.getPixelForValue(v)+4.5); }
  }
  // axis titles
  ctx.font='15px '+SERIF; ctx.textAlign='center';
  ctx.fillText('Size parameter', (a.left+a.right)/2, a.bottom+25);
  drawYTitle(ctx, cfg.kind, a.left-cfg.ytoff, (a.top+a.bottom)/2);
  if(cfg.title){ ctx.font='15px '+SERIF; ctx.textAlign='center'; ctx.fillText(cfg.title,(a.left+a.right)/2,a.top-5); }
  if(cfg.legend){
    ctx.lineWidth=1.5; ctx.textAlign='left'; ctx.font='11px '+SERIF;
    for(let i=0;i<bins.length;i++){
      const y=a.top+12+16*i;
      ctx.strokeStyle=binColors[i]; ctx.beginPath(); ctx.moveTo(a.left+14,y); ctx.lineTo(a.left+37,y); ctx.stroke();
      ctx.fillStyle='#000'; ctx.fillText(bins[i], a.left+46, y+3.5);
    }
  }
  ctx.restore();
}

function addPanel(row, col, datasets, cfg){
  const L=colL[col], R=colR[col], T=rowTop[col][row], B=rowBot[col][row];
  const pl=60, pt=30, pr=12, pb=40;
  const cv=document.createElement('canvas');
  const w=R-L+pl+pr, h=B-T+pt+pb;
  cv.width=w; cv.height=h; cv.style.left=(L-pl)+'px'; cv.style.top=(T-pt)+'px'; cv.style.width=w+'px'; cv.style.height=h+'px';
  document.body.appendChild(cv);
  cfg.ytoff = yTitleOffset[col];
  new Chart(cv, {
    type:'line',
    data:{datasets},
    options:{
      responsive:false, animation:false, devicePixelRatio:1, events:[],
      layout:{padding:{left:pl,top:pt,right:pr,bottom:pb}},
      scales:{
        x:{type:'logarithmic', display:false, min:Math.pow(10,colXRange[col][0]), max:Math.pow(10,colXRange[col][1])},
        y:{type:cfg.ylog?'logarithmic':'linear', display:false, min:cfg.ymin, max:cfg.ymax}
      },
      plugins:{legend:{display:false}, tooltip:{enabled:false}}
    },
    plugins:[{id:'deco', afterDraw(chart){ drawDeco(chart, cfg); }}]
  });
}

const qextData=[silicateQext, graphiteQext, acQext, beQext];
const omegaData=[silicateOmega, graphiteOmega, acOmega, beOmega];
const gData=[silicateG, graphiteG, acG, beG];
const miIn=[silicateMiIn, graphiteMiIn, acMiIn, beMiIn];
const miSolid=[silicateMi, graphiteMi, acMi, beMi];
const miOut=[silicateMiOut, graphiteMiOut, acMiOut, beMiOut];

for(let r=0;r<4;r++){
  addPanel(r,0, qextData[r].map((d,k)=>lineDs(k, logPts(d), binColors[k], 10-k)),
    {kind:'qext', ylog:true, ymin:Math.pow(10,qextRange[r][0]), ymax:Math.pow(10,qextRange[r][1]), yexps:qextTickExps[r], title:materials[r]});
  addPanel(r,1, omegaData[r].map((d,k)=>lineDs(k, logPts(d), binColors[k], 10-k)),
    {kind:'omega', ylog:true, ymin:Math.pow(10,omegaRange[r][0]), ymax:Math.pow(10,omegaRange[r][1]), yexps:omegaTickExps[r]});
  addPanel(r,2, gData[r].map((d,k)=>lineDs(k, linPts(d), binColors[k], 10-k)),
    {kind:'g', ylog:false, ymin:gRange[0], ymax:gRange[1], yticks:gTicks, legend:true});
  const ds=[];
  for(let k=0;k<bins.length;k++){
    ds.push(lineDs(k, shiftPts(miIn[r], miShift[k]), fade(binColors[k],0.38), 30-k));
    ds.push(lineDs(k, shiftPts(miOut[r], miShift[k]), fade(binColors[k],0.38), 30-k));
    ds.push(lineDs(k, shiftPts(miSolid[r], miShift[k]), binColors[k], 10-k));
  }
  addPanel(r,3, ds, {kind:'mi', ylog:false, ymin:miRange[r][0], ymax:miRange[r][1], yticks:miTicks[r]});
}
</script>
</body></html>
